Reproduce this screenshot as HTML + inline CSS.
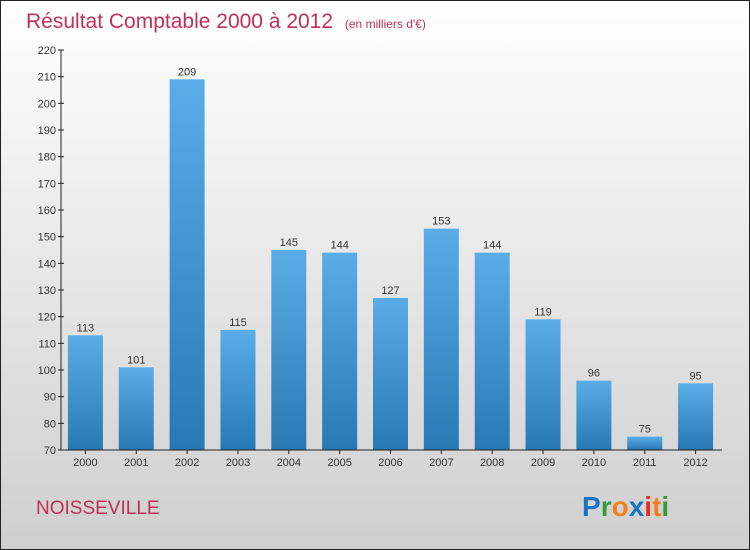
<!DOCTYPE html>
<html><head><meta charset="utf-8"><style>
body{margin:0;}
#c{width:750px;height:550px;position:relative;overflow:hidden;font-family:"Liberation Sans",sans-serif;}
</style></head><body>
<div id="c">
<svg id="s" width="750" height="550" xmlns="http://www.w3.org/2000/svg">
<defs>
<linearGradient id="bg" x1="0" y1="0" x2="0" y2="1"><stop offset="0" stop-color="#ffffff"/><stop offset="1" stop-color="#cfcfcf"/></linearGradient>
<linearGradient id="bar" x1="0" y1="0" x2="0" y2="1"><stop offset="0" stop-color="#5aade6"/><stop offset="1" stop-color="#2878b4"/></linearGradient>
</defs>
<rect x="0.5" y="0.5" width="749" height="549" fill="url(#bg)" stroke="#222"/>
<text x="26" y="28" font-size="21" fill="#c0305a">Résultat Comptable 2000 à 2012 <tspan font-size="12" dx="6">(en milliers d'€)</tspan></text>
<g id="grid"></g><g id="bars"></g><g id="axes"></g>
<text x="36" y="514" font-size="19" fill="#c0305a">NOISSEVILLE</text>
<text x="582" y="516" font-size="28" font-weight="bold"><tspan fill="#1a73c8">P</tspan><tspan fill="#3a9a3a">r</tspan><tspan fill="#f08020">o</tspan><tspan fill="#1a73c8">x</tspan><tspan fill="#e03020">i</tspan><tspan fill="#f08020">t</tspan><tspan fill="#3a9a3a">i</tspan></text>
</svg>
</div>
<script>
const years=["2000","2001","2002","2003","2004","2005","2006","2007","2008","2009","2010","2011","2012"];
const values=[113,101,209,115,145,144,127,153,144,119,96,75,95];
const yTicks=[70,80,90,100,110,120,130,140,150,160,170,180,190,200,210,220];
const NS="http://www.w3.org/2000/svg";
const x0=61,x1=722,yTop=50,yBot=450,vMin=70,vMax=220;
function y(v){return yBot-(v-vMin)/(vMax-vMin)*(yBot-yTop);}
const step=(x1-x0)/years.length;
function xc(i){return x0+step*(i+0.5)-1;}
function mk(tag,attrs,parent,txt){const e=document.createElementNS(NS,tag);for(const k in attrs)e.setAttribute(k,attrs[k]);if(txt!==undefined)e.textContent=txt;document.getElementById(parent).appendChild(e);return e;}
const ax=mk('line',{x1:x0,y1:yTop,x2:x0,y2:yBot,stroke:'#222'},'axes');


const bx=mk('line',{x1:x0,y1:yBot,x2:x1,y2:yBot,stroke:'#222'},'axes');


yTicks.forEach(t=>{
  mk('line',{x1:x0-3,y1:y(t),x2:x0+3,y2:y(t),stroke:'#222'},'axes');
  const l=mk('text',{x:x0-5,y:y(t)+4,'font-size':11,fill:'#333','text-anchor':'end'},'axes',t);
  
  
});
years.forEach((yr,i)=>{
  const v=values[i],cx=xc(i);
  const b=mk('rect',{x:cx-17.5,y:y(v),width:35,height:yBot-y(v),fill:'url(#bar)'},'bars');
  
  
  const vl=mk('text',{x:cx,y:y(v)-4,'font-size':11,fill:'#333','text-anchor':'middle'},'bars',v);
  
  
  mk('line',{x1:cx,y1:yBot,x2:cx,y2:yBot+4,stroke:'#222'},'axes');
  const xl=mk('text',{x:cx,y:yBot+16,'font-size':11,fill:'#333','text-anchor':'middle'},'axes',yr);
  
  
});
</script>
</body></html>
